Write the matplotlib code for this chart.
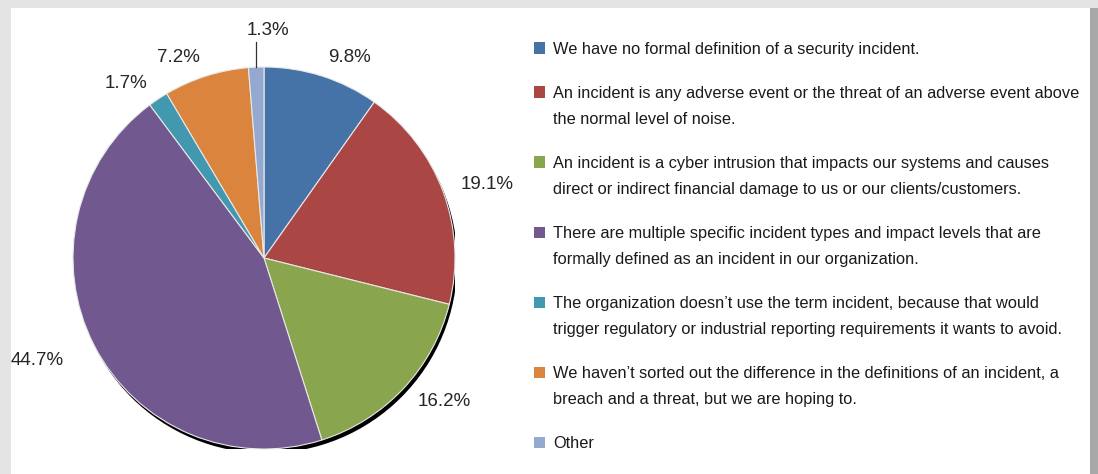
import numpy as np
import matplotlib
matplotlib.use('Agg')
import matplotlib.pyplot as plt
from matplotlib.patches import Rectangle, Circle
from matplotlib import font_manager

# Survey answers (percent)
values = [9.8, 19.1, 16.2, 44.7, 1.7, 7.2, 1.3]
colors = ['#4572A7', '#AA4643', '#89A54E', '#71588F', '#4198AF', '#DB843D', '#93A9CF']
labels = [
    "We have no formal definition of a security incident.",
    "An incident is any adverse event or the threat of an adverse event above\nthe normal level of noise.",
    "An incident is a cyber intrusion that impacts our systems and causes\ndirect or indirect financial damage to us or our clients/customers.",
    "There are multiple specific incident types and impact levels that are\nformally defined as an incident in our organization.",
    "The organization doesn\u2019t use the term incident, because that would\ntrigger regulatory or industrial reporting requirements it wants to avoid.",
    "We haven\u2019t sorted out the difference in the definitions of an incident, a\nbreach and a threat, but we are hoping to.",
    "Other",
]
pct_labels = [f"{v:.1f}%" for v in values]

# pick a narrow face if there is one
names = {f.name for f in font_manager.fontManager.ttflist}
if 'Liberation Sans Narrow' in names:
    leg_font, leg_size = 'Liberation Sans Narrow', 14.2
else:
    leg_font, leg_size = 'Liberation Sans', 11.8

W, H = 1098, 474
fig = plt.figure(figsize=(W / 100, H / 100), dpi=100, facecolor='#e4e4e4')

# white panel with a soft edge
fig.patches.append(Rectangle((11 / W, 0), (1090 - 11) / W, (H - 8) / H,
                             transform=fig.transFigure, facecolor='white',
                             edgecolor='none', zorder=-2))
fig.patches.append(Rectangle((1090 / W, 0), 8 / W, (H - 8) / H,
                             transform=fig.transFigure, facecolor='#a8a8a8',
                             edgecolor='none', zorder=-2))

# pie axes: centre (264, 258), radius 191 px
cx, cy, r = 264, 258, 191
ax = fig.add_axes([(cx - r) / W, (H - cy - r) / H, 2 * r / W, 2 * r / H])
ax.set_aspect('equal')
ax.axis('off')

ax.add_patch(Circle((0.012, -0.022), 1.0, facecolor='black', zorder=0))
wedges, texts = ax.pie(values, colors=colors, startangle=90, counterclock=False,
                       radius=1.0, labels=pct_labels[:-1] + [''], labeldistance=1.1,
                       wedgeprops=dict(edgecolor='#e8e8e8', linewidth=0.8),
                       textprops=dict(fontsize=13.5, color='#262626',
                                      family=['Liberation Sans', 'DejaVu Sans']))
for w in wedges:
    w.set_zorder(1)
ax.set_xlim(-1, 1)
ax.set_ylim(-1, 1)

# the big slice's label sits a little further out
mid = np.deg2rad(90 - (sum(values[:3]) + values[3] / 2) * 3.6)
texts[3].set_position((1.18 * np.cos(mid), 1.18 * np.sin(mid)))

# small "Other" slice gets a vertical leader line
before = sum(values[:-1]) + values[-1] / 2
theta = np.deg2rad(90 - before * 3.6)
x0, y0 = np.cos(theta), np.sin(theta)
ax.plot([x0, x0], [y0, 1.13], color='#333333', lw=0.9, clip_on=False)
ax.text(x0 + 0.06, 1.19, pct_labels[-1], ha='center', va='center',
        fontsize=13.5, color='#262626', family=['Liberation Sans', 'DejaVu Sans'])

# legend drawn by hand so the swatch sits on the first line
y = 48
for lab, col in zip(labels, colors):
    fig.patches.append(Rectangle((534 / W, (H - y - 5.5) / H), 11 / W, 11 / H,
                                 transform=fig.transFigure, facecolor=col,
                                 edgecolor='none'))
    for i, line in enumerate(lab.split('\n')):
        fig.text(553 / W, (H - y - 26 * i) / H, line, ha='left', va='center_baseline',
                 fontsize=leg_size, color='#1a1a1a', family=[leg_font, 'DejaVu Sans'])
    nlines = lab.count('\n') + 1
    y += 26 * (nlines - 1) + 44

fig.savefig('out.png', dpi=100, facecolor=fig.get_facecolor())
